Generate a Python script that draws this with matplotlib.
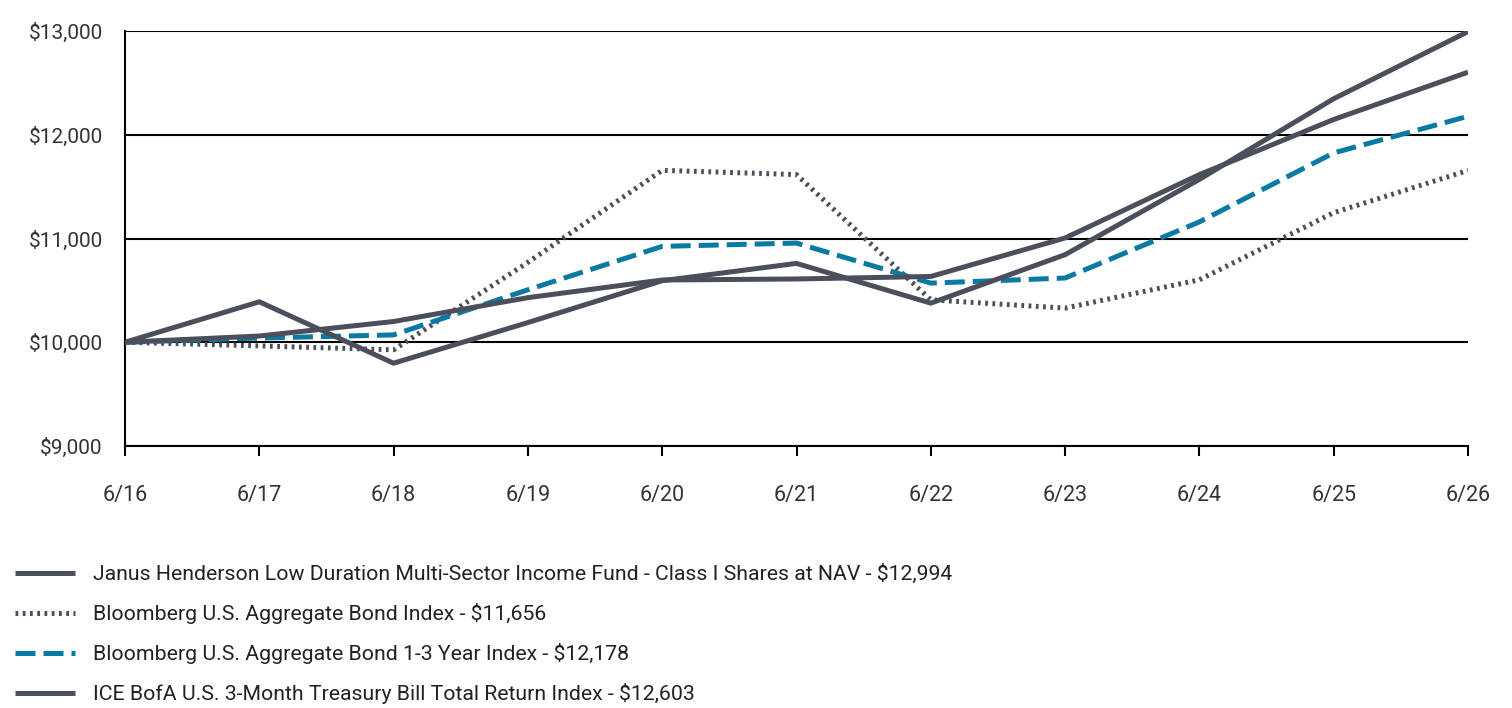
import matplotlib
matplotlib.use("Agg")
import matplotlib.pyplot as plt
from matplotlib.ticker import FuncFormatter

plt.rcParams['font.family'] = ['Roboto', 'DejaVu Sans']

# data
periods = ['6/16', '6/17', '6/18', '6/19', '6/20', '6/21', '6/22', '6/23', '6/24', '6/25', '6/26']
fund = [10000, 10390, 9798, 10190, 10593, 10760, 10377, 10844, 11570, 12347, 12994]
agg = [10000, 9965, 9927, 10770, 11657, 11616, 10409, 10329, 10602, 11249, 11656]
agg_1_3 = [10000, 10040, 10071, 10506, 10924, 10956, 10570, 10619, 11160, 11825, 12178]
tbill = [10000, 10060, 10200, 10430, 10600, 10610, 10634, 11005, 11616, 12147, 12603]

labels = [
    'Janus Henderson Low Duration Multi-Sector Income Fund - Class I Shares at NAV - $12,994',
    'Bloomberg U.S. Aggregate Bond Index - $11,656',
    'Bloomberg U.S. Aggregate Bond 1-3 Year Index - $12,178',
    'ICE BofA U.S. 3-Month Treasury Bill Total Return Index - $12,603',
]

gray = '#4b4f5c'
teal = '#0b7aa3'
lw = 3.6

fig = plt.figure(figsize=(15.12, 7.08), dpi=100)
ax = fig.add_axes([125 / 1512, 1 - 446 / 708, (1468 - 125) / 1512, (446 - 31) / 708])

x = list(range(len(periods)))
l1, = ax.plot(x, fund, color=gray, lw=lw, solid_capstyle='butt', zorder=4)
l2, = ax.plot(x, agg, color=gray, lw=lw, linestyle=(0, (0.55, 0.9)),
              dash_capstyle='butt', zorder=3)
l3, = ax.plot(x, agg_1_3, color=teal, lw=lw, linestyle=(0, (4, 1.6)),
              dash_capstyle='butt', zorder=3)
l4, = ax.plot(x, tbill, color=gray, lw=lw, solid_capstyle='butt', zorder=4)

ax.set_xlim(0, len(periods) - 1)
ax.set_ylim(9000, 13000)
ax.set_yticks([9000, 10000, 11000, 12000, 13000])
ax.yaxis.set_major_formatter(FuncFormatter(lambda v, p: f'${v:,.0f}'))
ax.set_xticks(x)
ax.set_xticklabels(periods)

ax.grid(axis='y', color='black', linewidth=1.5)
ax.set_axisbelow(True)
for s in ['top', 'right']:
    ax.spines[s].set_visible(False)
for s in ['left', 'bottom']:
    ax.spines[s].set_color('black')
    ax.spines[s].set_linewidth(1.5)

ax.tick_params(axis='y', length=0, pad=16, labelsize=15, labelcolor='#333333')
ax.tick_params(axis='x', direction='out', length=7, width=1.5, pad=21,
               labelsize=15.5, labelcolor='#333333')

fig.legend([l1, l2, l3, l4], labels, loc='upper left',
           bbox_to_anchor=(15 / 1512, 1 - 564 / 708), frameon=False,
           borderaxespad=0, borderpad=0,
           fontsize=15.3, handlelength=2.8, handletextpad=0.85,
           labelspacing=0.9, labelcolor='#222222')

fig.savefig('out.png', dpi=100)
